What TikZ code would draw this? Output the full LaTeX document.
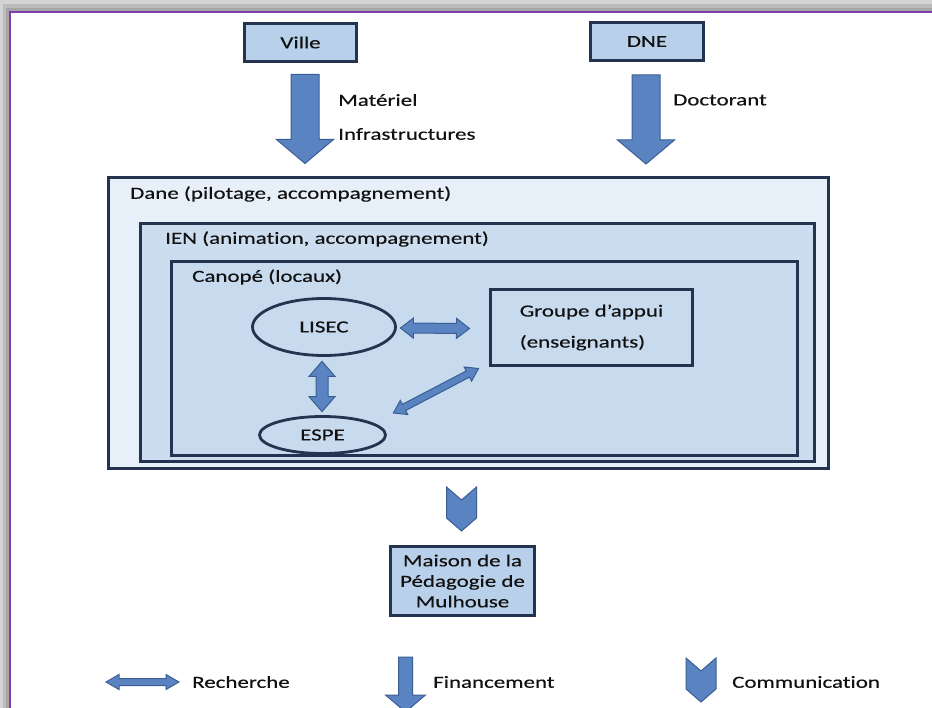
\documentclass[tikz,border=0pt]{standalone}
\usepackage{fontspec}
\setmainfont{Carlito}[FakeStretch=1.35, FakeBold=0.4, Ligatures=NoCommon]
\usetikzlibrary{calc, positioning, shapes.geometric}
\definecolor{FrameGray}{HTML}{A6A6A6}
\definecolor{FrameMid}{HTML}{BCBCBC}
\definecolor{FrameLight}{HTML}{D4D4D4}
\definecolor{FramePurple}{HTML}{7B3FAE}
\definecolor{BoxNavy}{HTML}{24334F}
\definecolor{BoxBlue}{HTML}{B9D0EA}
\definecolor{DaneFill}{HTML}{E7EFF8}
\definecolor{IenFill}{HTML}{CDDDF0}
\definecolor{CanopeFill}{HTML}{C7DAEE}
\definecolor{FlowBlue}{HTML}{5A84C1}
\definecolor{FlowEdge}{HTML}{3A5E93}
\definecolor{Ink}{HTML}{111111}

\tikzset{
  unitbox/.style={draw=BoxNavy, line width=3pt, fill=BoxBlue, inner sep=0pt},
  layer/.style={draw=BoxNavy, line width=3pt, inner sep=0pt},
  actor/.style={ellipse, draw=BoxNavy, line width=2.8pt, inner sep=0pt},
  tag/.style={anchor=west, inner sep=0pt},
  flowarrow/.style={fill=FlowBlue, draw=FlowEdge, line width=1pt, line join=miter}
}

% single block arrow: from #1 to tip #2, shaft half width #3, head half width #4, head length #5
\newcommand{\blockarrow}[5]{%
  \coordinate (ba-h) at ($(#2)!#5!(#1)$);
  \filldraw[flowarrow] ($(#1)!#3!90:(#2)$) -- ($(ba-h)!#3!-90:(#1)$) -- ($(ba-h)!#4!-90:(#1)$)
    -- (#2) -- ($(ba-h)!#4!90:(#1)$) -- ($(ba-h)!#3!90:(#1)$) -- ($(#1)!#3!-90:(#2)$) -- cycle;}

% double block arrow between #1 and #2
\newcommand{\twoway}[5]{%
  \coordinate (tw-a) at ($(#1)!#5!(#2)$);
  \coordinate (tw-b) at ($(#2)!#5!(#1)$);
  \filldraw[flowarrow] (#1) -- ($(tw-a)!#4!90:(#2)$) -- ($(tw-a)!#3!90:(#2)$) -- ($(tw-b)!#3!-90:(#1)$)
    -- ($(tw-b)!#4!-90:(#1)$) -- (#2) -- ($(tw-b)!#4!90:(#1)$) -- ($(tw-b)!#3!90:(#1)$)
    -- ($(tw-a)!#3!-90:(#2)$) -- ($(tw-a)!#4!-90:(#2)$) -- cycle;}

% chevron with top centre at #1
\newcommand{\chevronmark}[1]{%
  \filldraw[flowarrow] (#1) ++(-15,0) -- ++(15,13) -- ++(15,-13) -- ++(0,31) -- ++(-15,13) -- ++(-15,-13) -- cycle;}

\begin{document}
\begin{tikzpicture}[x=1pt, y=-1pt, font=\fontsize{17}{20}\selectfont, text=Ink]
\useasboundingbox (0,0) rectangle (932,708);

% page frame
\fill[FrameLight] (0,0) rectangle (932,708);
\fill[FrameMid] (3,4) rectangle (932,708);
\fill[FrameGray] (6,8) rectangle (932,708);
\fill[white] (10,12) rectangle (932,708);
\draw[FramePurple, line width=2.5pt] (10,708) -- (10,12) -- (932,12);

% sources
\node[unitbox, minimum width=112pt, minimum height=38pt] (ville) at (300.5,42.5) {Ville};
\node[unitbox, minimum width=113pt, minimum height=38pt] (dne) at (647,41.5) {DNE};

% nested structures
\node[layer, fill=DaneFill, minimum width=720pt, minimum height=291pt] (dane) at (468.5,323) {};
\node[layer, fill=IenFill, minimum width=674pt, minimum height=238pt] (ien) at (477.5,342.5) {};
\node[layer, fill=CanopeFill, minimum width=626pt, minimum height=194pt] (canope) at (484.5,358.5) {};
\node[tag] (danetag) at (130,194) {Dane (pilotage, accompagnement)};
\node[tag] (ientag) at (165,239) {IEN (animation, accompagnement)};
\node[tag] (canopetag) at (192,277) {Canopé (locaux)};

% funding arrows
\coordinate (va) at ($(ville.south)+(4.5,11.5)$);
\coordinate (vb) at ($(ville.south)+(4.5,100.5)$);
\blockarrow{va}{vb}{14pt}{28.5pt}{24pt}
\coordinate (da) at ($(dne.south)+(-1,13)$);
\coordinate (db) at ($(dne.south)+(-1,102)$);
\blockarrow{da}{db}{14pt}{28.5pt}{24pt}
\node[tag] (materiel) at (338,100) {Matériel};
\node[tag] (infra) at (338,134) {Infrastructures};
\node[tag] (doctorant) at (673,100) {Doctorant};

% research partners
\node[actor, minimum width=143pt, minimum height=57pt] (lisec) at (324,327) {LISEC};
\node[actor, minimum width=126pt, minimum height=37pt] (espe) at (322.5,435) {ESPE};
\node[unitbox, fill=CanopeFill, minimum width=202pt, minimum height=76pt, align=left,
      font=\fontsize{17}{31}\selectfont] (groupe) at (591.5,327.5) {Groupe d’appui\\(enseignants)};

% research links
\coordinate (r1a) at ($(lisec.east)+(3.5,1)$);
\coordinate (r1b) at ($(groupe.west)+(-19.5,1)$);
\twoway{r1a}{r1b}{5pt}{10pt}{13pt}
\coordinate (r2a) at ($(lisec.south)+(-2,4.5)$);
\coordinate (r2b) at ($(espe.north)+(-0.5,-3.5)$);
\twoway{r2a}{r2b}{6pt}{13pt}{15pt}
\coordinate (r3a) at ($(espe.east)+(6.5,-22)$);
\coordinate (r3b) at ($(groupe.south west)+(-10.5,1.5)$);
\twoway{r3a}{r3b}{3.5pt}{8pt}{12pt}

% communication to Mulhouse
\node[unitbox, minimum width=144pt, minimum height=69pt, align=center,
      font=\fontsize{17}{20.5}\selectfont] (maison) at (462.5,581) {Maison de la\\Pédagogie de\\Mulhouse};
\coordinate (comtop) at ($(maison.north)+(-1,-58)$);
\chevronmark{comtop}

% legend
\coordinate (la) at (106,682);
\coordinate (lb) at (179,682);
\twoway{la}{lb}{3.5pt}{7.5pt}{13pt}
\node[tag] (recherche) at (192,682) {Recherche};
\coordinate (fa) at (405.5,657);
\coordinate (fb) at (405.5,712);
\blockarrow{fa}{fb}{7pt}{20pt}{17pt}
\node[tag] (financement) at (433,682) {Financement};
\coordinate (ctop) at (701,658);
\chevronmark{ctop}
\node[tag] (communication) at (732,682) {Communication};
\end{tikzpicture}
\end{document}
